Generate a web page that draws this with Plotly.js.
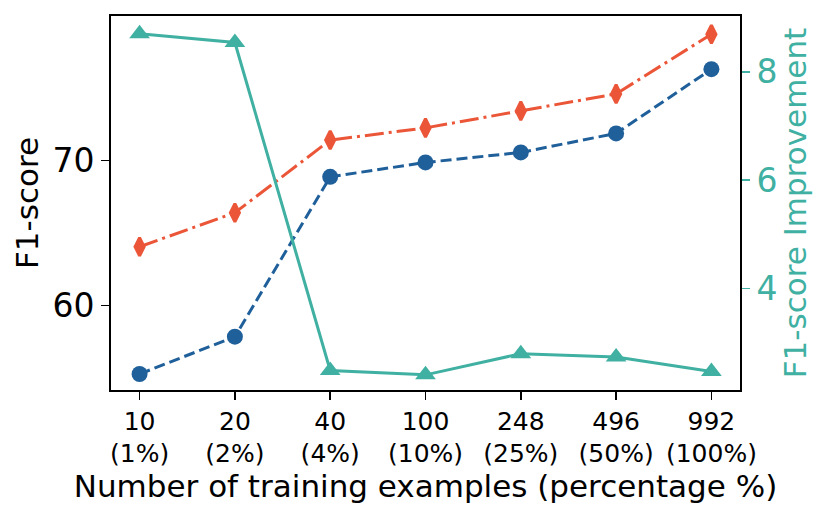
<!DOCTYPE html>
<html>
<head>
<meta charset="utf-8">
<script src="https://cdn.plot.ly/plotly-3.0.1.min.js"></script>
<style>html,body{margin:0;padding:0;background:#fff;}#chart{width:831px;height:519px;}</style>
</head>
<body>
<div id="chart"></div>
<script>
const tickLabels = ["10<br>(1%)", "20<br>(2%)", "40<br>(4%)", "100<br>(10%)", "248<br>(25%)", "496<br>(50%)", "992<br>(100%)"];
const positions = [0, 1, 2, 3, 4, 5, 6];
const baselineF1 = [55.3, 57.87, 68.87, 69.86, 70.55, 71.86, 76.28];
const improvedF1 = [64.06, 66.4, 71.4, 72.24, 73.41, 74.58, 78.69];
const improvement = [8.70, 8.54, 2.48, 2.40, 2.79, 2.73, 2.46];

const BLUE = '#1f5f9a', RED = '#eb5538', TEAL = '#40b0a2';
const FONT = 'DejaVu Sans, sans-serif';

const traces = [
  {x: positions, y: baselineF1, type: 'scatter', mode: 'lines+markers', yaxis: 'y',
   line: {color: BLUE, width: 3, dash: '11px,5px'},
   marker: {symbol: 'circle', size: 16, color: BLUE}},
  {x: positions, y: improvedF1, type: 'scatter', mode: 'lines+markers', yaxis: 'y',
   line: {color: RED, width: 3, dash: '19px,5px,3px,5px'},
   marker: {symbol: 'diamond-tall', size: 13, color: RED, line: {color: RED, width: 3}}},
  {x: positions, y: improvement, type: 'scatter', mode: 'lines+markers', yaxis: 'y2',
   line: {color: TEAL, width: 3},
   marker: {symbol: 'triangle-up', size: 18, color: TEAL}}
];

const layout = {
  width: 831, height: 519,
  margin: {l: 111, r: 91, t: 16, b: 129},
  paper_bgcolor: '#fff', plot_bgcolor: '#fff',
  showlegend: false,
  font: {family: FONT, color: '#000'},
  xaxis: {
    range: [-0.3, 6.3], tickvals: positions, ticktext: tickLabels,
    showgrid: false, zeroline: false, showline: true, linecolor: '#000', linewidth: 1.8,
    mirror: true, ticks: 'outside', ticklen: 8, tickwidth: 1.5, tickcolor: '#000',
    tickfont: {size: 25, family: FONT, color: '#000'},
    automargin: true,
    title: {text: 'Number of training examples (percentage %)', standoff: 2, font: {size: 31, family: FONT, color: '#000'}}
  },
  yaxis: {
    range: [54.2, 79.94], tickvals: [60, 70],
    showgrid: false, zeroline: false, showline: true, linecolor: '#000', linewidth: 1.8,
    ticks: 'outside', ticklen: 8, tickwidth: 1.5, tickcolor: '#000',
    tickfont: {size: 33, family: FONT, color: '#000'},
    title: {text: 'F1-score', font: {size: 31, family: FONT, color: '#000'}}
  },
  yaxis2: {
    overlaying: 'y', side: 'right', range: [2.12, 9.03], tickvals: [4, 6, 8],
    showgrid: false, zeroline: false, showline: true, linecolor: '#000', linewidth: 1.8,
    ticks: 'outside', ticklen: 8, tickwidth: 1.5, tickcolor: TEAL,
    tickfont: {size: 33, family: FONT, color: TEAL},
    automargin: true,
    title: {text: 'F1-score Improvement', standoff: 6, font: {size: 31, family: FONT, color: TEAL}}
  }
};

Plotly.newPlot('chart', traces, layout, {displayModeBar: false, staticPlot: true});
</script>
</body>
</html>
